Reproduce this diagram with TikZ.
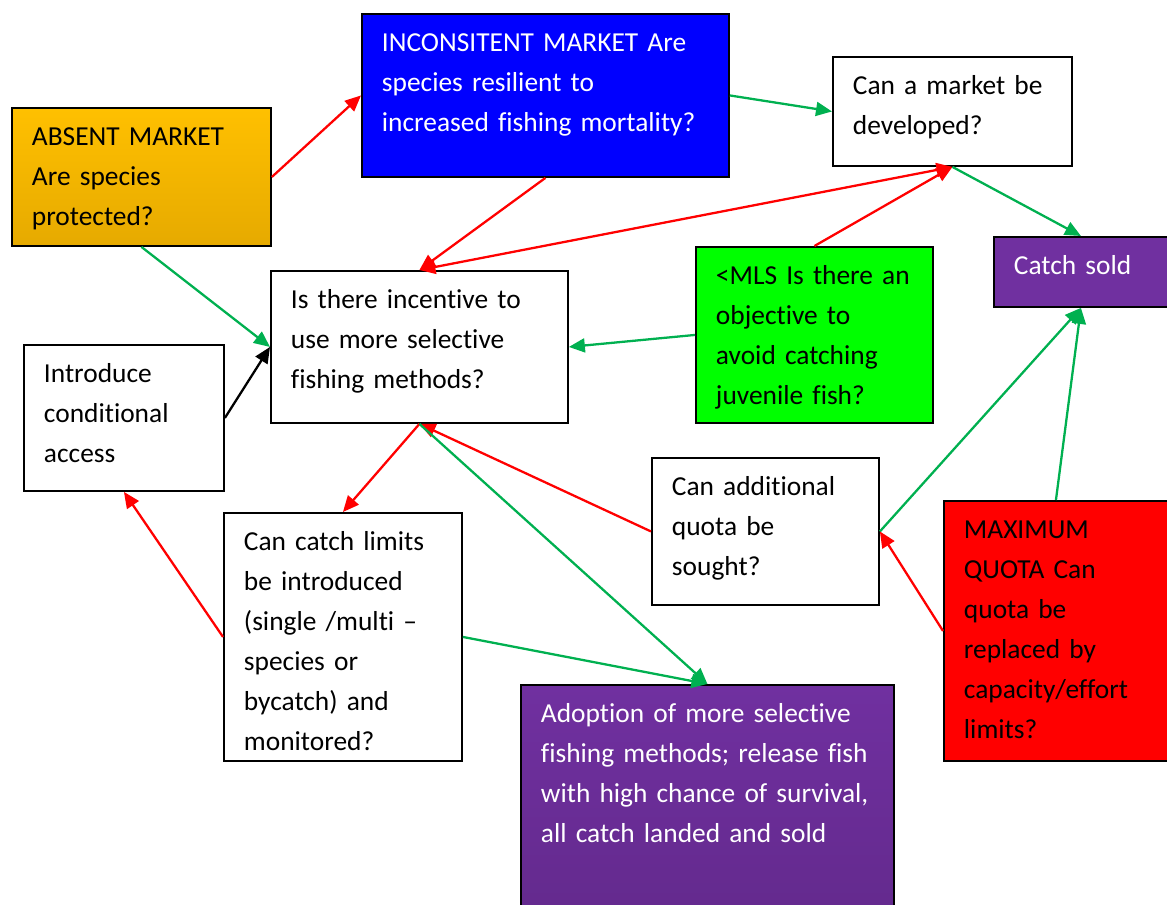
\documentclass[tikz,border=0pt]{standalone}
\usepackage{fontspec}
\setmainfont{Carlito}[Ligatures=NoCommon]
\usetikzlibrary{arrows.meta}
\hyphenpenalty=10000
\definecolor{mktorange}{HTML}{FFC000}
\definecolor{mktorangedk}{HTML}{E6AA00}
\definecolor{mktblue}{HTML}{0000FF}
\definecolor{mktpurple}{HTML}{7030A0}
\definecolor{mktpurpledk}{HTML}{642A8E}
\definecolor{mktgreen}{HTML}{00FF00}
\definecolor{mktred}{HTML}{FF0000}
\definecolor{arrgreen}{HTML}{00B050}
\definecolor{arrred}{HTML}{FF0000}
\tikzset{
	qbox/.style={draw=black,line width=1.1pt,anchor=north west,align=left,inner xsep=0.4cm,inner ysep=0.34cm,text height=0.42cm,font=\fontsize{15.6}{22.7}\selectfont},
	greenarr/.style={draw=arrgreen,line width=1.3pt,-{Triangle[length=0.32cm,width=0.28cm]}},
	redarr/.style={draw=arrred,line width=1.3pt,-{Triangle[length=0.32cm,width=0.28cm]}},
	redboth/.style={draw=arrred,line width=1.3pt,{Triangle[length=0.32cm,width=0.28cm]}-{Triangle[length=0.32cm,width=0.28cm]}},
	blackarr/.style={draw=black,line width=1.3pt,-{Triangle[length=0.32cm,width=0.28cm]}}
}
\begin{document}
\begin{tikzpicture}[x=0.02cm,y=-0.02cm]
	\useasboundingbox (0,0) rectangle (1167,905);
	\node[qbox,top color=mktorange,bottom color=mktorangedk,text width=4.38cm,text depth=1.66cm] (absent) at (11,107) {ABSENT MARKET\\Are species\\protected?};
	\node[qbox,fill=mktblue,text=white,text width=6.54cm,text depth=2.16cm] (inconsistent) at (361,13) {INCONSITENT MARKET Are\\species resilient to\\increased fishing mortality?};
	\node[qbox,fill=white,text width=3.98cm,text depth=1.08cm] (market) at (832,56) {Can a market be\\developed?};
	\node[qbox,fill=mktpurple,text=white,text width=2.68cm,text depth=0.30cm] (sold) at (993,236) {Catch sold};
	\node[qbox,fill=white,text width=5.14cm,text depth=1.94cm] (incentive) at (270,270) {Is there incentive to\\use more selective\\fishing methods?};
	\node[qbox,fill=mktgreen,text width=3.94cm,text depth=2.42cm] (mls) at (695,246) {<MLS Is there an\\objective to\\avoid catching\\juvenile fish?};
	\node[qbox,fill=white,text width=3.2cm,text depth=1.82cm] (introduce) at (23,344) {Introduce\\conditional\\access};
	\node[qbox,fill=white,text width=3.74cm,text depth=1.84cm] (additional) at (651,457) {Can additional\\quota be\\sought?};
	\node[qbox,fill=white,text width=3.96cm,text depth=3.86cm] (limits) at (223,512) {Can catch limits\\be introduced\\(single /multi –\\species or\\bycatch) and\\monitored?};
	\node[qbox,fill=mktred,text width=3.68cm,text depth=4.1cm] (maximum) at (943,500) {MAXIMUM\\QUOTA Can\\quota be\\replaced by\\capacity/effort\\limits?};
	\node[qbox,top color=mktpurple,bottom color=mktpurpledk,text=white,text width=6.66cm,text depth=3.42cm] (adoption) at (520,684) {Adoption of more selective\\fishing methods; release fish\\with high chance of survival,\\all catch landed and sold};

	\draw[redarr] (absent.east) -- (inconsistent.west);
	\draw[greenarr] (inconsistent.east) -- (market.west);
	\draw[redarr] (inconsistent.south) -- (incentive.north);
	\draw[redboth] (market.south) -- (incentive.north);
	\draw[redarr] (mls.north) -- (market.south);
	\draw[greenarr] (market.south) -- (sold.north);
	\draw[greenarr] (absent.south) -- (incentive.west);
	\draw[blackarr] (introduce.east) -- (incentive.west);
	\draw[greenarr] (mls.west) -- (incentive.east);
	\draw[redarr] (incentive.south) -- (limits.north);
	\draw[redarr] (additional.west) -- (incentive.south);
	\draw[redarr] (limits.west) -- (introduce.south);
	\draw[greenarr] (limits.east) -- (adoption.north);
	\draw[greenarr] (incentive.south) -- (adoption.north);
	\draw[greenarr] (additional.east) -- (sold.south);
	\draw[greenarr] (maximum.north) -- (sold.south);
	\draw[redarr] (maximum.west) -- (additional.east);
\end{tikzpicture}
\end{document}
